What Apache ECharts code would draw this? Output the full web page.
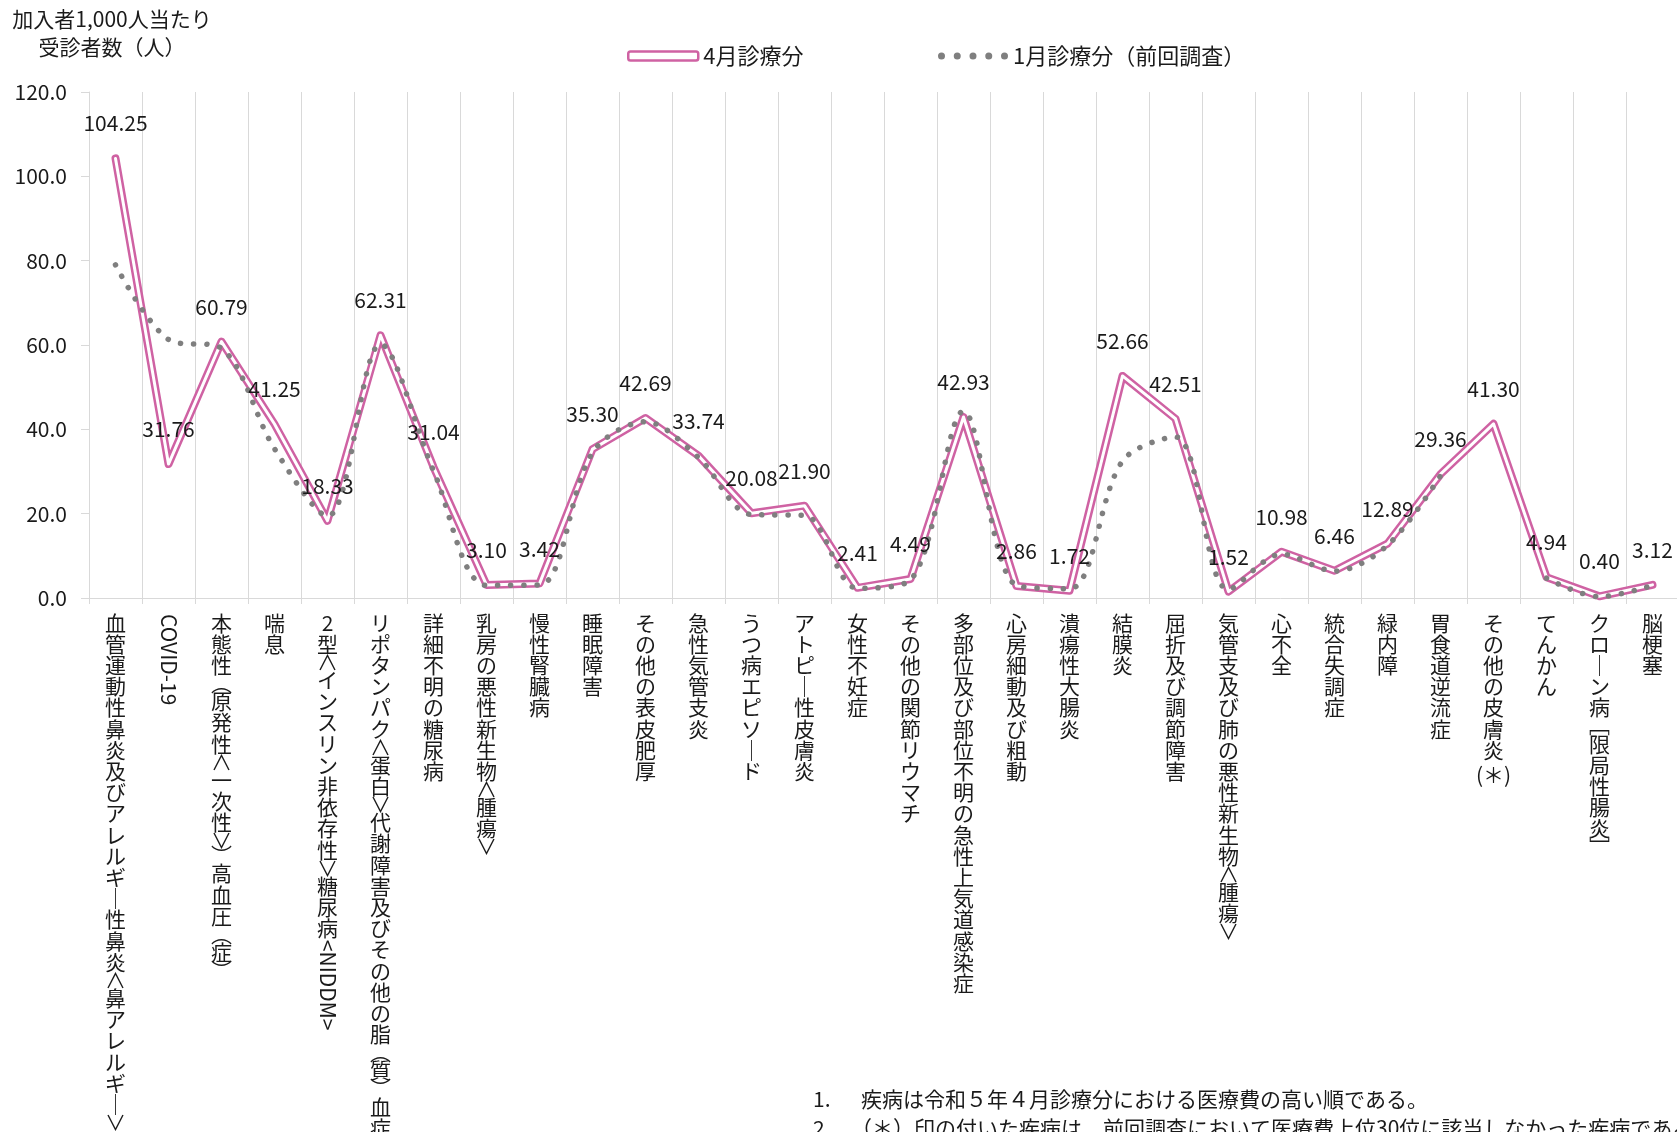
<!DOCTYPE html>
<html><head><meta charset="utf-8">
<script src="https://cdn.jsdelivr.net/npm/echarts@6/dist/echarts.min.js"></script>
<style>html,body{margin:0;padding:0;background:#fff}#c{width:1677px;height:1132px}</style>
</head><body><div id="c"></div>
<script>
// ---------- data ----------
const categories = [
  '血管運動性鼻炎及びアレルギー性鼻炎<鼻アレルギー>',
  'COVID-19',
  '本態性(原発性<一次性>)高血圧(症)',
  '喘息',
  '2型<インスリン非依存性>糖尿病<NIDDM>',
  'リポタンパク<蛋白>代謝障害及びその他の脂(質)血症',
  '詳細不明の糖尿病',
  '乳房の悪性新生物<腫瘍>',
  '慢性腎臓病',
  '睡眠障害',
  'その他の表皮肥厚',
  '急性気管支炎',
  'うつ病エピソード',
  'アトピー性皮膚炎',
  '女性不妊症',
  'その他の関節リウマチ',
  '多部位及び部位不明の急性上気道感染症',
  '心房細動及び粗動',
  '潰瘍性大腸炎',
  '結膜炎',
  '屈折及び調節障害',
  '気管支及び肺の悪性新生物<腫瘍>',
  '心不全',
  '統合失調症',
  '緑内障',
  '胃食道逆流症',
  'その他の皮膚炎（＊）',
  'てんかん',
  'クローン病[限局性腸炎]',
  '脳梗塞'
];
const april = [104.25, 31.76, 60.79, 41.25, 18.33, 62.31, 31.04, 3.10, 3.42, 35.30,
  42.69, 33.74, 20.08, 21.90, 2.41, 4.49, 42.93, 2.86, 1.72, 52.66,
  42.51, 1.52, 10.98, 6.46, 12.89, 29.36, 41.30, 4.94, 0.40, 3.12];
const january = [79.0, 61.3, 59.2, 35.4, 19.4, 60.2, 30.2, 3.0, 3.1, 34.5,
  41.8, 33.3, 19.8, 19.6, 2.3, 4.3, 44.3, 3.0, 2.2, 32.5,
  38.2, 2.0, 10.4, 6.4, 12.5, 29.0, null, 4.7, 0.3, 3.0];
const seriesNames = ['4月診療分', '1月診療分（前回調査）'];
const yAxisTitle = '加入者1,000人当たり\n受診者数（人）';
const yMin = 0, yMax = 120, yStep = 20;
const noteNumbers = ['1.', '2.'];
const noteTexts = [
  '疾病は令和５年４月診療分における医療費の高い順である。',
  '（＊）印の付いた疾病は、前回調査において医療費上位30位に該当しなかった疾病である。'
];

// ---------- style ----------
const FONT = '"Noto Sans CJK JP", "Noto Sans", sans-serif';
const PINK = '#CF62A3';
const GRAY = '#7F7F7F';
const GRID = '#D9D9D9';
const TXT = '#1a1a1a';
const FS = 21, LH = 21.2, HLH = 15, LABEL_MARGIN = 14;

const HALF = {'<':'∧','>':'∨','(':'︵',')':'︶','[':'﹇',']':'﹈'};
const FULLMAP = {'ー':'｜'};
function splitRot(s){
  const m = s.match(/<?[A-Z][A-Z0-9\-]{2,}>?$/);
  return m ? [s.slice(0, m.index), m[0]] : [s, ''];
}
function toVertical(s){
  let suffix = '';
  if (s.endsWith('（＊）')) { s = s.slice(0, -3); suffix = '(＊)'; }
  const lines = [];
  for (const ch of s) {
    if (HALF[ch]) lines.push('{h|' + HALF[ch] + '}');
    else lines.push(FULLMAP[ch] || ch);
  }
  if (suffix) lines.push('{s|' + suffix + '}');
  return lines.join('\n');
}
function verticalHeight(s){
  let h = 0;
  for (const ch of s) h += HALF[ch] ? HLH : LH;
  return h;
}

const chart = echarts.init(document.getElementById('c'), null, {renderer: 'canvas'});

const option = {
  backgroundColor: '#fff',
  animation: false,
  textStyle: {fontFamily: FONT},
  grid: {left: 89, top: 92, width: 1590, height: 506, containLabel: false, outerBoundsMode: 'none'},
  legend: [
    {
      left: 622, top: 40, selectedMode: false,
      itemWidth: 70, itemHeight: 9, itemGap: 10,
      textStyle: {fontSize: 22, color: TXT, fontFamily: FONT},
      data: [{name: seriesNames[0], icon: 'roundRect',
        itemStyle: {color: '#fff', borderColor: PINK, borderWidth: 2.5}}]
    },
    {
      left: 933, top: 40, selectedMode: false,
      itemWidth: 70, itemHeight: 7, itemGap: 10,
      textStyle: {fontSize: 22, color: TXT, fontFamily: FONT},
      data: [{name: seriesNames[1],
        icon: 'path://M0,3.5a3.5,3.5 0 1,0 7,0a3.5,3.5 0 1,0 -7,0Z M15.75,3.5a3.5,3.5 0 1,0 7,0a3.5,3.5 0 1,0 -7,0Z M31.5,3.5a3.5,3.5 0 1,0 7,0a3.5,3.5 0 1,0 -7,0Z M47.25,3.5a3.5,3.5 0 1,0 7,0a3.5,3.5 0 1,0 -7,0Z M63,3.5a3.5,3.5 0 1,0 7,0a3.5,3.5 0 1,0 -7,0Z',
        itemStyle: {color: GRAY, borderWidth: 0}}]
    }
  ],
  xAxis: {
    type: 'category',
    data: categories,
    boundaryGap: true,
    axisLine: {show: true, lineStyle: {color: GRID, width: 1}},
    axisTick: {show: true, interval: 0, length: 6, lineStyle: {color: GRID}},
    splitLine: {show: true, interval: 0, lineStyle: {color: GRID, width: 1}},
    axisLabel: {
      interval: 0, margin: LABEL_MARGIN, fontSize: FS, lineHeight: LH, color: TXT,
      fontFamily: FONT, align: 'center', verticalAlign: 'top', hideOverlap: false,
      formatter: function (v) { return toVertical(splitRot(v)[0]); },
      rich: {
        h: {fontSize: FS, lineHeight: HLH, color: TXT, fontFamily: FONT},
        s: {fontSize: FS, lineHeight: 30, color: TXT, fontFamily: FONT}
      }
    }
  },
  yAxis: {
    type: 'value', min: yMin, max: yMax, interval: yStep,
    name: yAxisTitle, nameLocation: 'end', nameGap: 31,
    nameTextStyle: {fontSize: 21, color: TXT, fontFamily: FONT, lineHeight: 28,
      align: 'center', verticalAlign: 'bottom', padding: [0, 0, 0, 46]},
    axisLine: {show: true, lineStyle: {color: GRID}},
    axisTick: {show: true, length: 8, lineStyle: {color: GRID}},
    splitLine: {show: false},
    axisLabel: {fontSize: 21, color: TXT, fontFamily: FONT, margin: 22,
      formatter: function (v) { return v.toFixed(1); }}
  },
  series: [
    {
      name: seriesNames[0], type: 'line', data: april, symbol: 'none', z: 2,
      lineStyle: {color: PINK, width: 8, cap: 'round', join: 'round'},
      itemStyle: {color: PINK}
    },
    {
      name: '_inner', type: 'line', data: april, symbol: 'none', z: 3, silent: true,
      lineStyle: {color: '#fff', width: 3, cap: 'round', join: 'round'},
      itemStyle: {color: '#fff'}
    },
    {
      name: seriesNames[1], type: 'line', data: january, symbol: 'none', z: 4,
      smooth: 0.33, connectNulls: false,
      lineStyle: {color: GRAY, width: 5.5, type: [0.1, 13], cap: 'round', join: 'round'},
      itemStyle: {color: GRAY}
    },
    {
      name: '_labels', type: 'line', data: april, z: 6, silent: true,
      symbol: 'circle', symbolSize: 1, showSymbol: true, showAllSymbol: true,
      itemStyle: {color: 'rgba(0,0,0,0)', borderWidth: 0},
      lineStyle: {color: 'rgba(0,0,0,0)', width: 0},
      label: {show: true, position: 'top', distance: 24, fontSize: 21, color: TXT,
        fontFamily: FONT, formatter: function (p) { return p.value.toFixed(2); }},
      labelLayout: {hideOverlap: false}
    }
  ]
};
chart.setOption(option);

// rotated latin runs in category labels + notes
const axisY = chart.convertToPixel({yAxisIndex: 0}, 0);
const labelTop = axisY + LABEL_MARGIN;
const graphics = [];
categories.forEach(function (c, i) {
  const parts = splitRot(c);
  if (!parts[1]) return;
  const x = chart.convertToPixel({xAxisIndex: 0}, i);
  const y = labelTop + (parts[0] ? verticalHeight(parts[0]) + 1 : 2);
  graphics.push({
    type: 'text', x: x, y: y, rotation: -Math.PI / 2, silent: true,
    style: {text: parts[1], fontSize: FS, fontFamily: FONT, fill: TXT,
      textAlign: 'left', textVerticalAlign: 'middle'}
  });
});
noteNumbers.forEach(function (n, i) {
  const y = 1099 + i * 29;
  graphics.push({type: 'text', x: 813, y: y, silent: true,
    style: {text: n, fontSize: 21, fontFamily: FONT, fill: TXT, textVerticalAlign: 'middle'}});
  graphics.push({type: 'text', x: i === 0 ? 861 : 851, y: y, silent: true,
    style: {text: noteTexts[i], fontSize: 21, fontFamily: FONT, fill: TXT, textVerticalAlign: 'middle'}});
});
chart.setOption({graphic: graphics});
</script>
</body></html>
